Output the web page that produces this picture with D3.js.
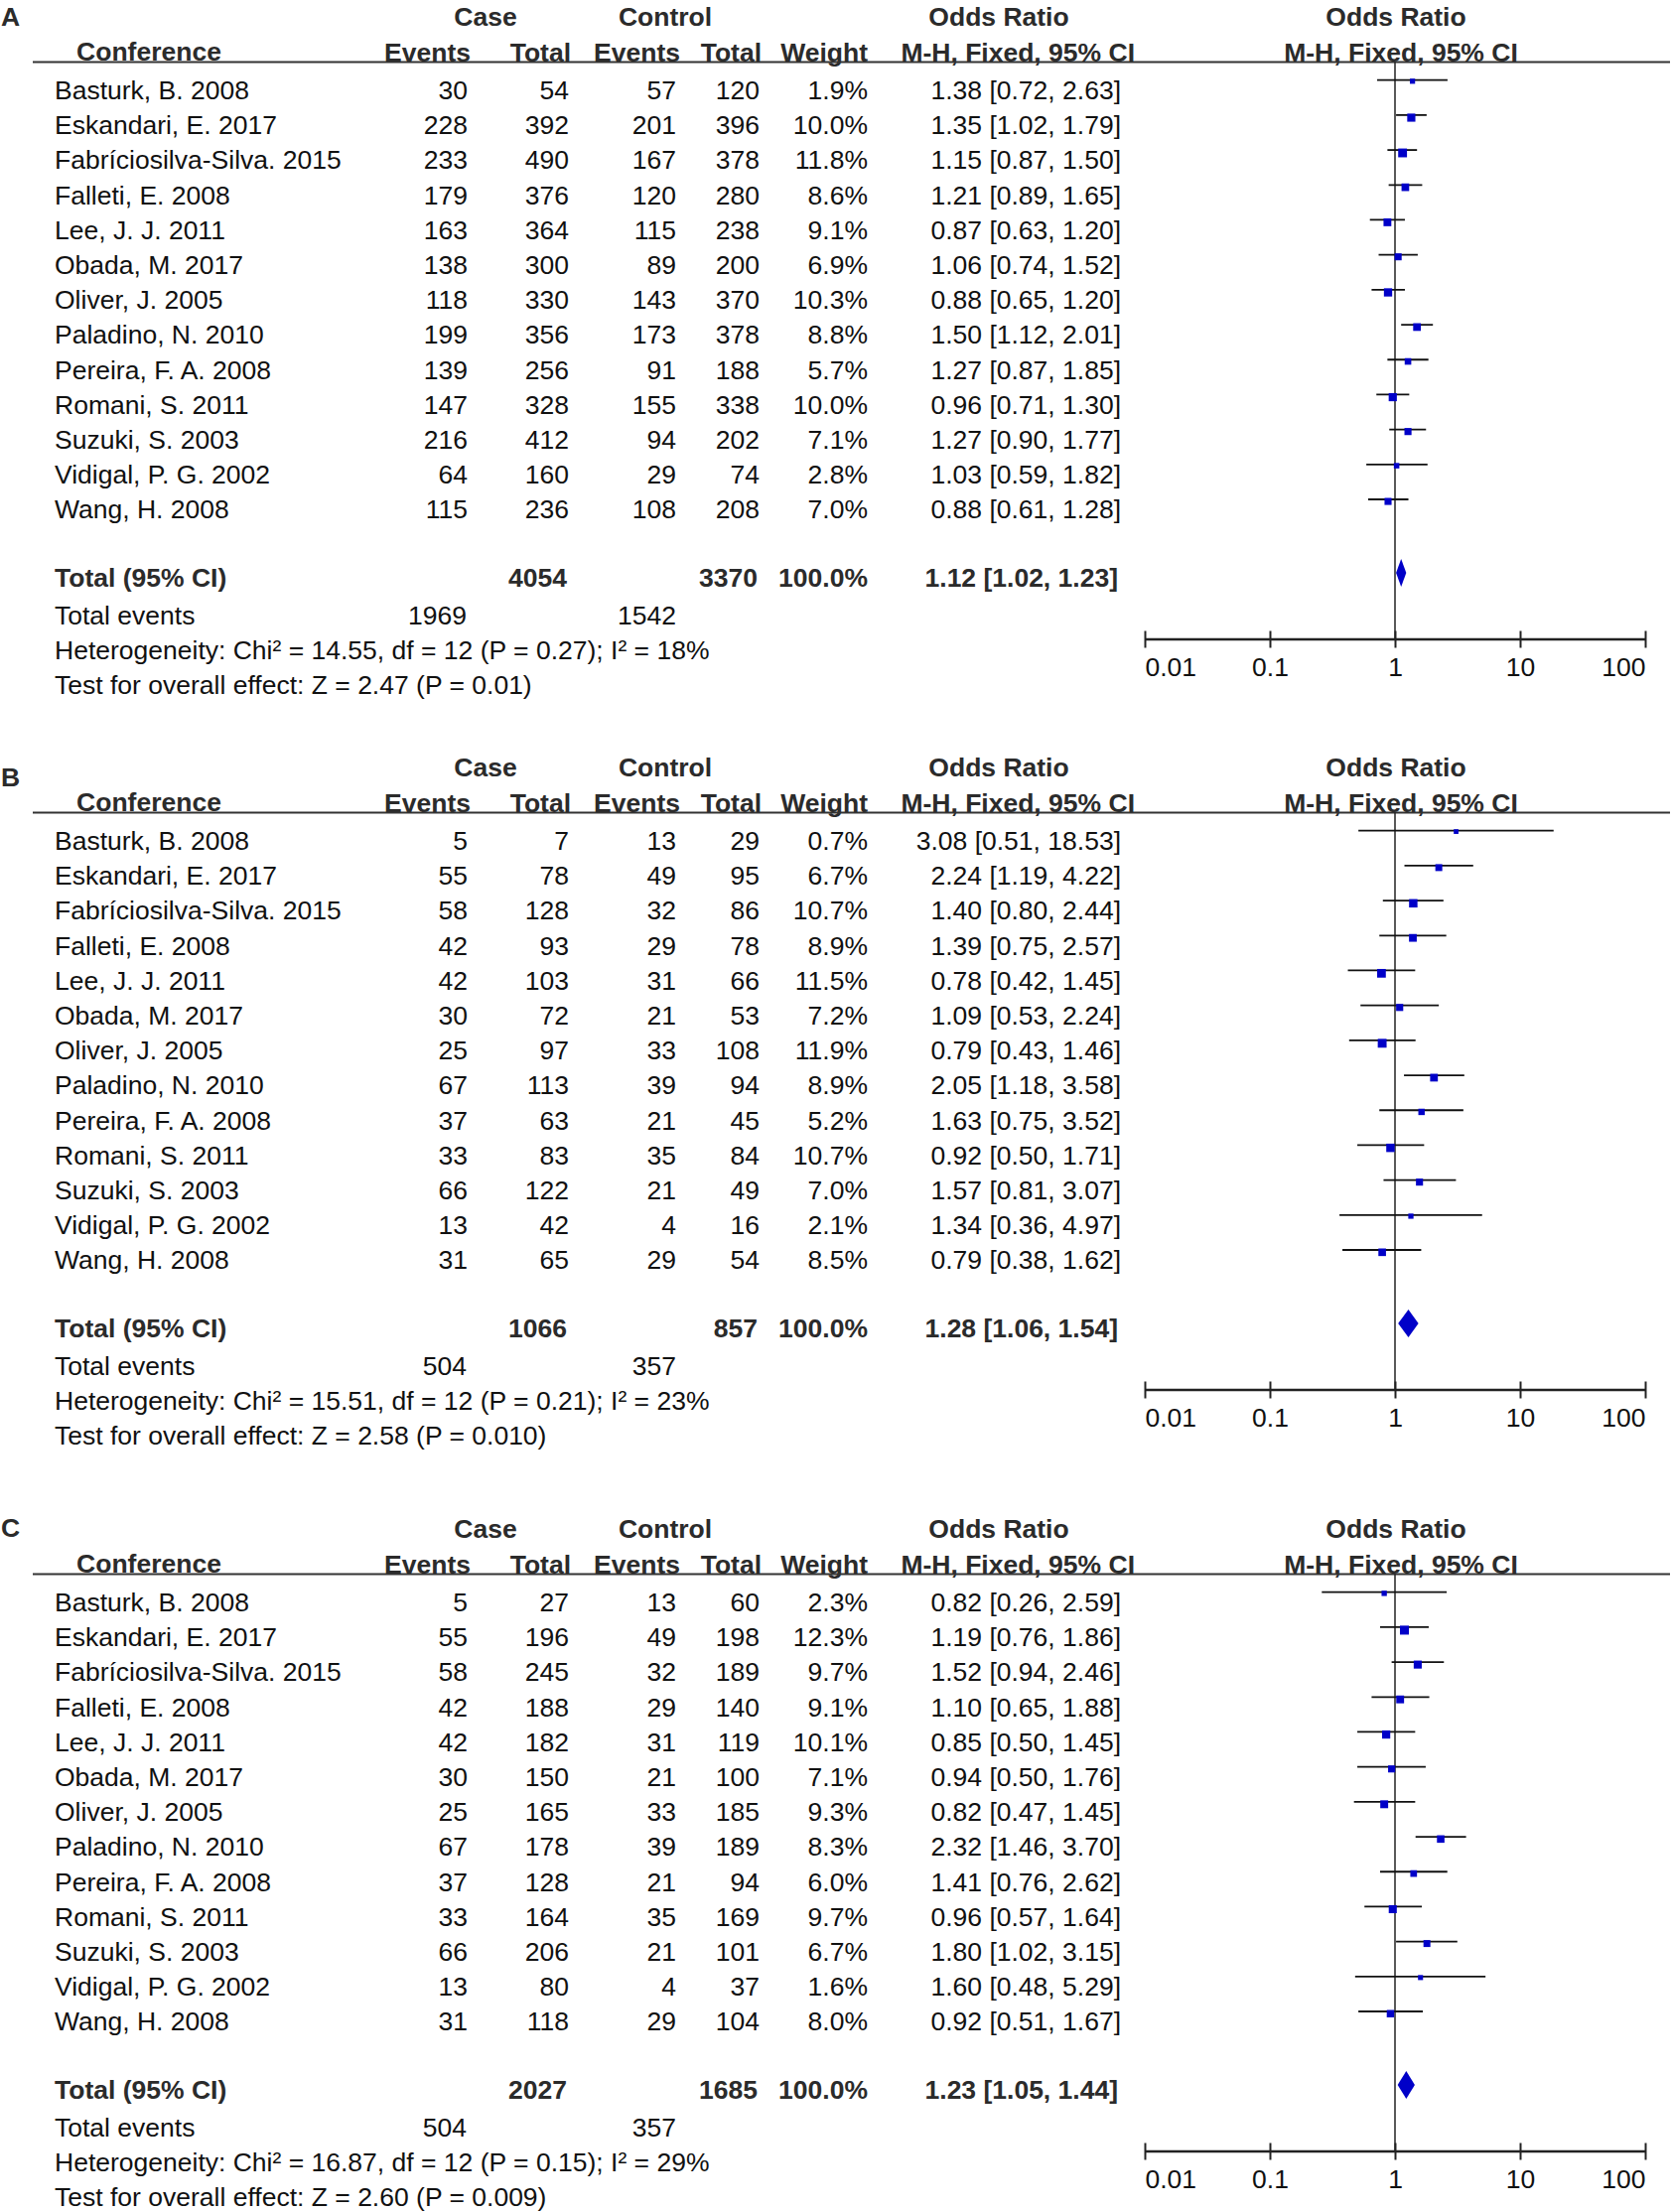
<!DOCTYPE html>
<html lang="en">
<head>
<meta charset="UTF-8">
<title>Forest plots A-C</title>
<script src="https://cdnjs.cloudflare.com/ajax/libs/d3/7.8.5/d3.min.js"></script>
<style>
  body { margin: 0; background: #fff; }
  svg text { font-family: "Liberation Sans", Arial, sans-serif; }
</style>
</head>
<body>
<div id="chart"></div>
<script>
// studies (same in every panel)
const studies = ["Basturk, B. 2008", "Eskandari, E. 2017", "Fabríciosilva-Silva. 2015", "Falleti, E. 2008",
  "Lee, J. J. 2011", "Obada, M. 2017", "Oliver, J. 2005", "Paladino, N. 2010", "Pereira, F. A. 2008",
  "Romani, S. 2011", "Suzuki, S. 2003", "Vidigal, P. G. 2002", "Wang, H. 2008"];

// panel A
const caseEventsA = [30, 228, 233, 179, 163, 138, 118, 199, 139, 147, 216, 64, 115];
const caseTotalA  = [54, 392, 490, 376, 364, 300, 330, 356, 256, 328, 412, 160, 236];
const ctrlEventsA = [57, 201, 167, 120, 115, 89, 143, 173, 91, 155, 94, 29, 108];
const ctrlTotalA  = [120, 396, 378, 280, 238, 200, 370, 378, 188, 338, 202, 74, 208];
const weightA = [1.9, 10.0, 11.8, 8.6, 9.1, 6.9, 10.3, 8.8, 5.7, 10.0, 7.1, 2.8, 7.0];
const orA = [1.38, 1.35, 1.15, 1.21, 0.87, 1.06, 0.88, 1.50, 1.27, 0.96, 1.27, 1.03, 0.88];
const loA = [0.72, 1.02, 0.87, 0.89, 0.63, 0.74, 0.65, 1.12, 0.87, 0.71, 0.90, 0.59, 0.61];
const hiA = [2.63, 1.79, 1.50, 1.65, 1.20, 1.52, 1.20, 2.01, 1.85, 1.30, 1.77, 1.82, 1.28];
const totalA = {caseTotal: 4054, ctrlTotal: 3370, or: 1.12, lo: 1.02, hi: 1.23, caseEvents: 1969, ctrlEvents: 1542,
  het: "Heterogeneity: Chi² = 14.55, df = 12 (P = 0.27); I² = 18%", z: "Test for overall effect: Z = 2.47 (P = 0.01)"};

// panel B
const caseEventsB = [5, 55, 58, 42, 42, 30, 25, 67, 37, 33, 66, 13, 31];
const caseTotalB  = [7, 78, 128, 93, 103, 72, 97, 113, 63, 83, 122, 42, 65];
const ctrlEventsB = [13, 49, 32, 29, 31, 21, 33, 39, 21, 35, 21, 4, 29];
const ctrlTotalB  = [29, 95, 86, 78, 66, 53, 108, 94, 45, 84, 49, 16, 54];
const weightB = [0.7, 6.7, 10.7, 8.9, 11.5, 7.2, 11.9, 8.9, 5.2, 10.7, 7.0, 2.1, 8.5];
const orB = [3.08, 2.24, 1.40, 1.39, 0.78, 1.09, 0.79, 2.05, 1.63, 0.92, 1.57, 1.34, 0.79];
const loB = [0.51, 1.19, 0.80, 0.75, 0.42, 0.53, 0.43, 1.18, 0.75, 0.50, 0.81, 0.36, 0.38];
const hiB = [18.53, 4.22, 2.44, 2.57, 1.45, 2.24, 1.46, 3.58, 3.52, 1.71, 3.07, 4.97, 1.62];
const totalB = {caseTotal: 1066, ctrlTotal: 857, or: 1.28, lo: 1.06, hi: 1.54, caseEvents: 504, ctrlEvents: 357,
  het: "Heterogeneity: Chi² = 15.51, df = 12 (P = 0.21); I² = 23%", z: "Test for overall effect: Z = 2.58 (P = 0.010)"};

// panel C
const caseEventsC = [5, 55, 58, 42, 42, 30, 25, 67, 37, 33, 66, 13, 31];
const caseTotalC  = [27, 196, 245, 188, 182, 150, 165, 178, 128, 164, 206, 80, 118];
const ctrlEventsC = [13, 49, 32, 29, 31, 21, 33, 39, 21, 35, 21, 4, 29];
const ctrlTotalC  = [60, 198, 189, 140, 119, 100, 185, 189, 94, 169, 101, 37, 104];
const weightC = [2.3, 12.3, 9.7, 9.1, 10.1, 7.1, 9.3, 8.3, 6.0, 9.7, 6.7, 1.6, 8.0];
const orC = [0.82, 1.19, 1.52, 1.10, 0.85, 0.94, 0.82, 2.32, 1.41, 0.96, 1.80, 1.60, 0.92];
const loC = [0.26, 0.76, 0.94, 0.65, 0.50, 0.50, 0.47, 1.46, 0.76, 0.57, 1.02, 0.48, 0.51];
const hiC = [2.59, 1.86, 2.46, 1.88, 1.45, 1.76, 1.45, 3.70, 2.62, 1.64, 3.15, 5.29, 1.67];
const totalC = {caseTotal: 2027, ctrlTotal: 1685, or: 1.23, lo: 1.05, hi: 1.44, caseEvents: 504, ctrlEvents: 357,
  het: "Heterogeneity: Chi² = 16.87, df = 12 (P = 0.15); I² = 29%", z: "Test for overall effect: Z = 2.60 (P = 0.009)"};

const axisTicks = [0.01, 0.1, 1, 10, 100];

const panels = [
  {label: "A", top: 0, labelDy: 0, ce: caseEventsA, ct: caseTotalA, ke: ctrlEventsA, kt: ctrlTotalA, w: weightA, or: orA, lo: loA, hi: hiA, tot: totalA},
  {label: "B", top: 756, labelDy: 10, ce: caseEventsB, ct: caseTotalB, ke: ctrlEventsB, kt: ctrlTotalB, w: weightB, or: orB, lo: loB, hi: hiB, tot: totalB},
  {label: "C", top: 1523, labelDy: -1, ce: caseEventsC, ct: caseTotalC, ke: ctrlEventsC, kt: ctrlTotalC, w: weightC, or: orC, lo: loC, hi: hiC, tot: totalC}
];

const width = 1684, height = 2228;
const fs = 26.5, capHalf = 9.4;
const blue = "#0000c8", ink = "#111", headInk = "#2b2b2b";

const x = d3.scaleLog().domain([0.01, 100]).range([1153, 1657]);
const rowY = d3.scaleLinear().domain([0, studies.length - 1]).range([90.7, 513]);
const yTotal = 582, yEvents = 620, yHet = 655, yZ = 690, yAxis = 644, yHeadLine = 62.5;
const boxSize = w => 4.5 + 0.37 * w;

const svg = d3.select("#chart").append("svg")
  .attr("width", width).attr("height", height)
  .style("display", "block");
svg.append("rect").attr("width", width).attr("height", height).attr("fill", "#fff");

function txt(g, xx, yy, s, opt = {}) {
  return g.append("text")
    .attr("x", xx).attr("y", yy + capHalf)
    .attr("text-anchor", opt.anchor || "start")
    .attr("font-size", opt.size || fs)
    .attr("font-weight", opt.bold ? "bold" : "normal")
    .attr("fill", opt.bold ? headInk : ink)
    .text(s);
}

panels.forEach(p => {
  const g = svg.append("g").attr("transform", `translate(0,${p.top})`);

  // headers
  txt(g, 1, 17 + p.labelDy, p.label, {bold: true});
  txt(g, 489, 17, "Case", {bold: true, anchor: "middle"});
  txt(g, 670, 17, "Control", {bold: true, anchor: "middle"});
  txt(g, 1006, 17, "Odds Ratio", {bold: true, anchor: "middle"});
  txt(g, 1406, 17, "Odds Ratio", {bold: true, anchor: "middle"});
  txt(g, 150, 51.5, "Conference", {bold: true, anchor: "middle"});
  txt(g, 474, 52.5, "Events", {bold: true, anchor: "end"});
  txt(g, 575, 52.5, "Total", {bold: true, anchor: "end"});
  txt(g, 685, 52.5, "Events", {bold: true, anchor: "end"});
  txt(g, 767, 52.5, "Total", {bold: true, anchor: "end"});
  txt(g, 874, 52.5, "Weight", {bold: true, anchor: "end"});
  txt(g, 1143, 52.5, "M-H, Fixed, 95% CI", {bold: true, anchor: "end"});
  txt(g, 1411, 52.5, "M-H, Fixed, 95% CI", {bold: true, anchor: "middle"});

  g.append("line").attr("x1", 33).attr("x2", 1682).attr("y1", yHeadLine).attr("y2", yHeadLine)
    .attr("stroke", "#333").attr("stroke-width", 2);

  // null line
  g.append("line").attr("x1", x(1)).attr("x2", x(1)).attr("y1", yHeadLine).attr("y2", yAxis)
    .attr("stroke", "#222").attr("stroke-width", 1.5);

  // study rows
  const rows = studies.map((name, i) => ({
    name, ce: p.ce[i], ct: p.ct[i], ke: p.ke[i], kt: p.kt[i], w: p.w[i],
    or: p.or[i], lo: p.lo[i], hi: p.hi[i], y: rowY(i)
  }));

  const rg = g.selectAll("g.row").data(rows).enter().append("g").attr("class", "row");
  rg.each(function(d) {
    const r = d3.select(this);
    txt(r, 55, d.y, d.name);
    txt(r, 471, d.y, d.ce, {anchor: "end"});
    txt(r, 573, d.y, d.ct, {anchor: "end"});
    txt(r, 681, d.y, d.ke, {anchor: "end"});
    txt(r, 765, d.y, d.kt, {anchor: "end"});
    txt(r, 874, d.y, d.w.toFixed(1) + "%", {anchor: "end"});
    txt(r, 1129, d.y, `${d.or.toFixed(2)} [${d.lo.toFixed(2)}, ${d.hi.toFixed(2)}]`, {anchor: "end"});
  });

  // confidence intervals and boxes (box hangs just below the CI line, as in RevMan)
  rg.append("line")
    .attr("x1", d => x(d.lo)).attr("x2", d => x(d.hi))
    .attr("y1", d => d.y - 10).attr("y2", d => d.y - 10)
    .attr("stroke", ink).attr("stroke-width", 1.8);
  rg.append("rect")
    .attr("x", d => x(d.or) - boxSize(d.w) / 2)
    .attr("y", d => d.y - 11.5)
    .attr("width", d => boxSize(d.w)).attr("height", d => boxSize(d.w))
    .attr("fill", blue);

  // totals
  const t = p.tot;
  txt(g, 55, yTotal, "Total (95% CI)", {bold: true});
  txt(g, 571, yTotal, t.caseTotal, {bold: true, anchor: "end"});
  txt(g, 763, yTotal, t.ctrlTotal, {bold: true, anchor: "end"});
  txt(g, 874, yTotal, "100.0%", {bold: true, anchor: "end"});
  txt(g, 1126, yTotal, `${t.or.toFixed(2)} [${t.lo.toFixed(2)}, ${t.hi.toFixed(2)}]`, {bold: true, anchor: "end"});
  txt(g, 55, yEvents, "Total events");
  txt(g, 470, yEvents, t.caseEvents, {anchor: "end"});
  txt(g, 681, yEvents, t.ctrlEvents, {anchor: "end"});
  txt(g, 55, yHet, t.het);
  txt(g, 55, yZ, t.z);

  const cy = yTotal - 5, hh = 14;
  g.append("path")
    .attr("d", `M${x(t.lo)},${cy}L${x(t.or)},${cy - hh}L${x(t.hi)},${cy}L${x(t.or)},${cy + hh}Z`)
    .attr("fill", blue);

  // log axis
  const ax = g.append("g").attr("transform", `translate(0,${yAxis})`)
    .call(d3.axisBottom(x).tickValues(axisTicks).tickSize(8).tickFormat(d3.format("~g")));
  ax.select(".domain").attr("stroke", "#222").attr("stroke-width", 2.4).attr("d", `M${x(0.01)},0H${x(100)}`);
  ax.selectAll(".tick line").attr("y1", -8.5).attr("y2", 8.5).attr("stroke", "#222").attr("stroke-width", 2);
  ax.selectAll(".tick text")
    .attr("font-size", fs).attr("fill", ink).attr("y", 28 + capHalf).attr("dy", null)
    .attr("text-anchor", (d, i) => i === 0 ? "start" : (i === axisTicks.length - 1 ? "end" : "middle"))
    .attr("font-family", '"Liberation Sans", Arial, sans-serif');
});
</script>
</body>
</html>
